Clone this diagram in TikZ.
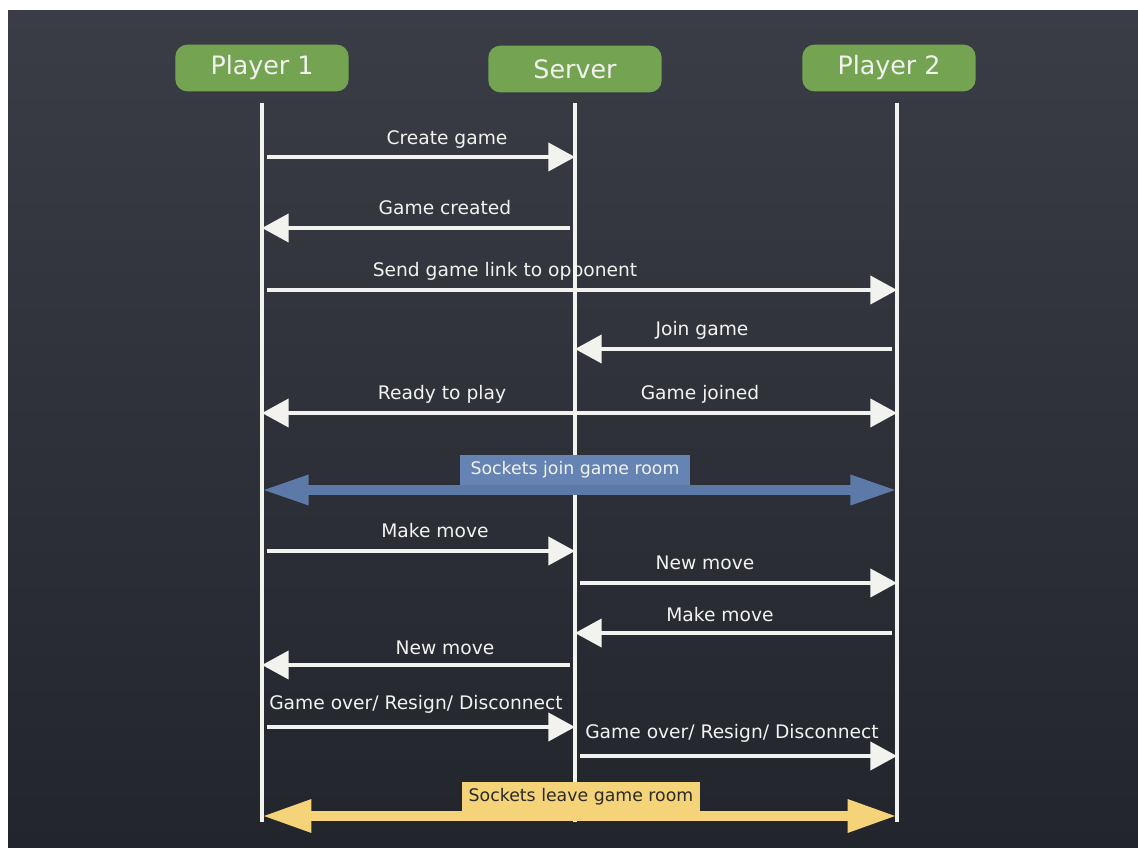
\documentclass[tikz,border=0pt]{standalone}
\usepackage{fontspec}
\setmainfont{DejaVu Sans}
\usetikzlibrary{arrows.meta}
\definecolor{boardtop}{HTML}{3A3D45}
\definecolor{boardbot}{HTML}{23252D}
\definecolor{chalk}{HTML}{F2F2EF}
\definecolor{actorgreen}{HTML}{74A451}
\definecolor{joinblue}{HTML}{5D79A8}
\definecolor{joinbox}{HTML}{6583B3}
\definecolor{leaveyellow}{HTML}{F5D378}
\definecolor{leavetext}{HTML}{2B2A28}

\begin{document}
\begin{tikzpicture}[x=0.75pt,y=-0.75pt,
    actor/.style={fill=actorgreen, rounded corners=9pt, minimum width=130pt,
        minimum height=35pt, text=chalk, font=\fontsize{19}{22}\selectfont},
    lifeline/.style={draw=chalk, line width=3pt},
    msg/.style={draw=chalk, line width=3pt, shorten <=4pt,
        >={Triangle[length=20pt,width=21pt]}},
    lbl/.style={text=chalk, anchor=base, inner sep=0pt,
        font=\fontsize{14}{16}\selectfont},
    bandbox/.style={minimum height=23pt, inner sep=0pt,
        font=\fontsize{13}{16}\selectfont}]
    % board
    \fill[white] (0,0) rectangle (1138,848);
    \shade[top color=boardtop, bottom color=boardbot] (8,11) rectangle (1138,848);

    % actors
    \node[actor] (p1) at (262,68) {Player 1};
    \node[actor] (sv) at (575,69) {Server};
    \node[actor] (p2) at (889,68) {Player 2};

    % lifelines
    \coordinate (p1t) at (262,103);  \coordinate (p1b) at (262,822);
    \coordinate (svt) at (575,103);  \coordinate (svb) at (575,822);
    \coordinate (p2t) at (897,103);  \coordinate (p2b) at (897,822);
    \draw[lifeline] (p1t) -- (p1b);
    \draw[lifeline] (svt) -- (svb);
    \draw[lifeline] (p2t) -- (p2b);

    % rows
    \foreach \n/\y in {1/157,2/228,3/290,4/349,5/413,6/490,7/551,8/583,
                       9/633,10/665,11/727,12/756,13/816}
        \coordinate (r\n) at (0,\y);

    % messages
    \draw[msg,->] (p1t |- r1) -- (svt |- r1);
    \node[lbl] (create) at (447,145) {Create game};
    \draw[msg,->] (svt |- r2) -- (p1t |- r2);
    \node[lbl] (created) at (445,215) {Game created};
    \draw[msg,->] (p1t |- r3) -- (p2t |- r3);
    \node[lbl] (link) at (505,277) {Send game link to opponent};
    \draw[msg,->] (p2t |- r4) -- (svt |- r4);
    \node[lbl] (join) at (702,336) {Join game};
    \draw[msg,<->,shorten <=0pt] (p1t |- r5) -- (p2t |- r5);
    \node[lbl] (ready) at (442,399) {Ready to play};
    \node[lbl] (joined) at (700,399) {Game joined};

    % sockets join
    \draw[joinblue, line width=7pt,
        {Triangle[length=35pt,width=21pt]}-{Triangle[length=35pt,width=21pt]}]
        (p1t |- r6) -- (p2t |- r6);
    \node[bandbox, fill=joinbox, text=chalk, minimum width=172pt]
        (joinroom) at (575,470) {Sockets join game room};

    \draw[msg,->] (p1t |- r7) -- (svt |- r7);
    \node[lbl] (move1) at (435,537) {Make move};
    \draw[msg,->] (svt |- r8) -- (p2t |- r8);
    \node[lbl] (new1) at (705,569) {New move};
    \draw[msg,->] (p2t |- r9) -- (svt |- r9);
    \node[lbl] (move2) at (720,621) {Make move};
    \draw[msg,->] (svt |- r10) -- (p1t |- r10);
    \node[lbl] (new2) at (445,654) {New move};
    \draw[msg,->] (p1t |- r11) -- (svt |- r11);
    \node[lbl] (over1) at (416,709) {Game over/ Resign/ Disconnect};
    \draw[msg,->] (svt |- r12) -- (p2t |- r12);
    \node[lbl] (over2) at (732,738) {Game over/ Resign/ Disconnect};

    % sockets leave
    \draw[leaveyellow, line width=7.5pt,
        {Triangle[length=37pt,width=23pt]}-{Triangle[length=37pt,width=23pt]}]
        (p1t |- r13) -- (p2t |- r13);
    \node[bandbox, fill=leaveyellow, text=leavetext, minimum width=178pt]
        (leaveroom) at (581,797) {Sockets leave game room};
\end{tikzpicture}
\end{document}
